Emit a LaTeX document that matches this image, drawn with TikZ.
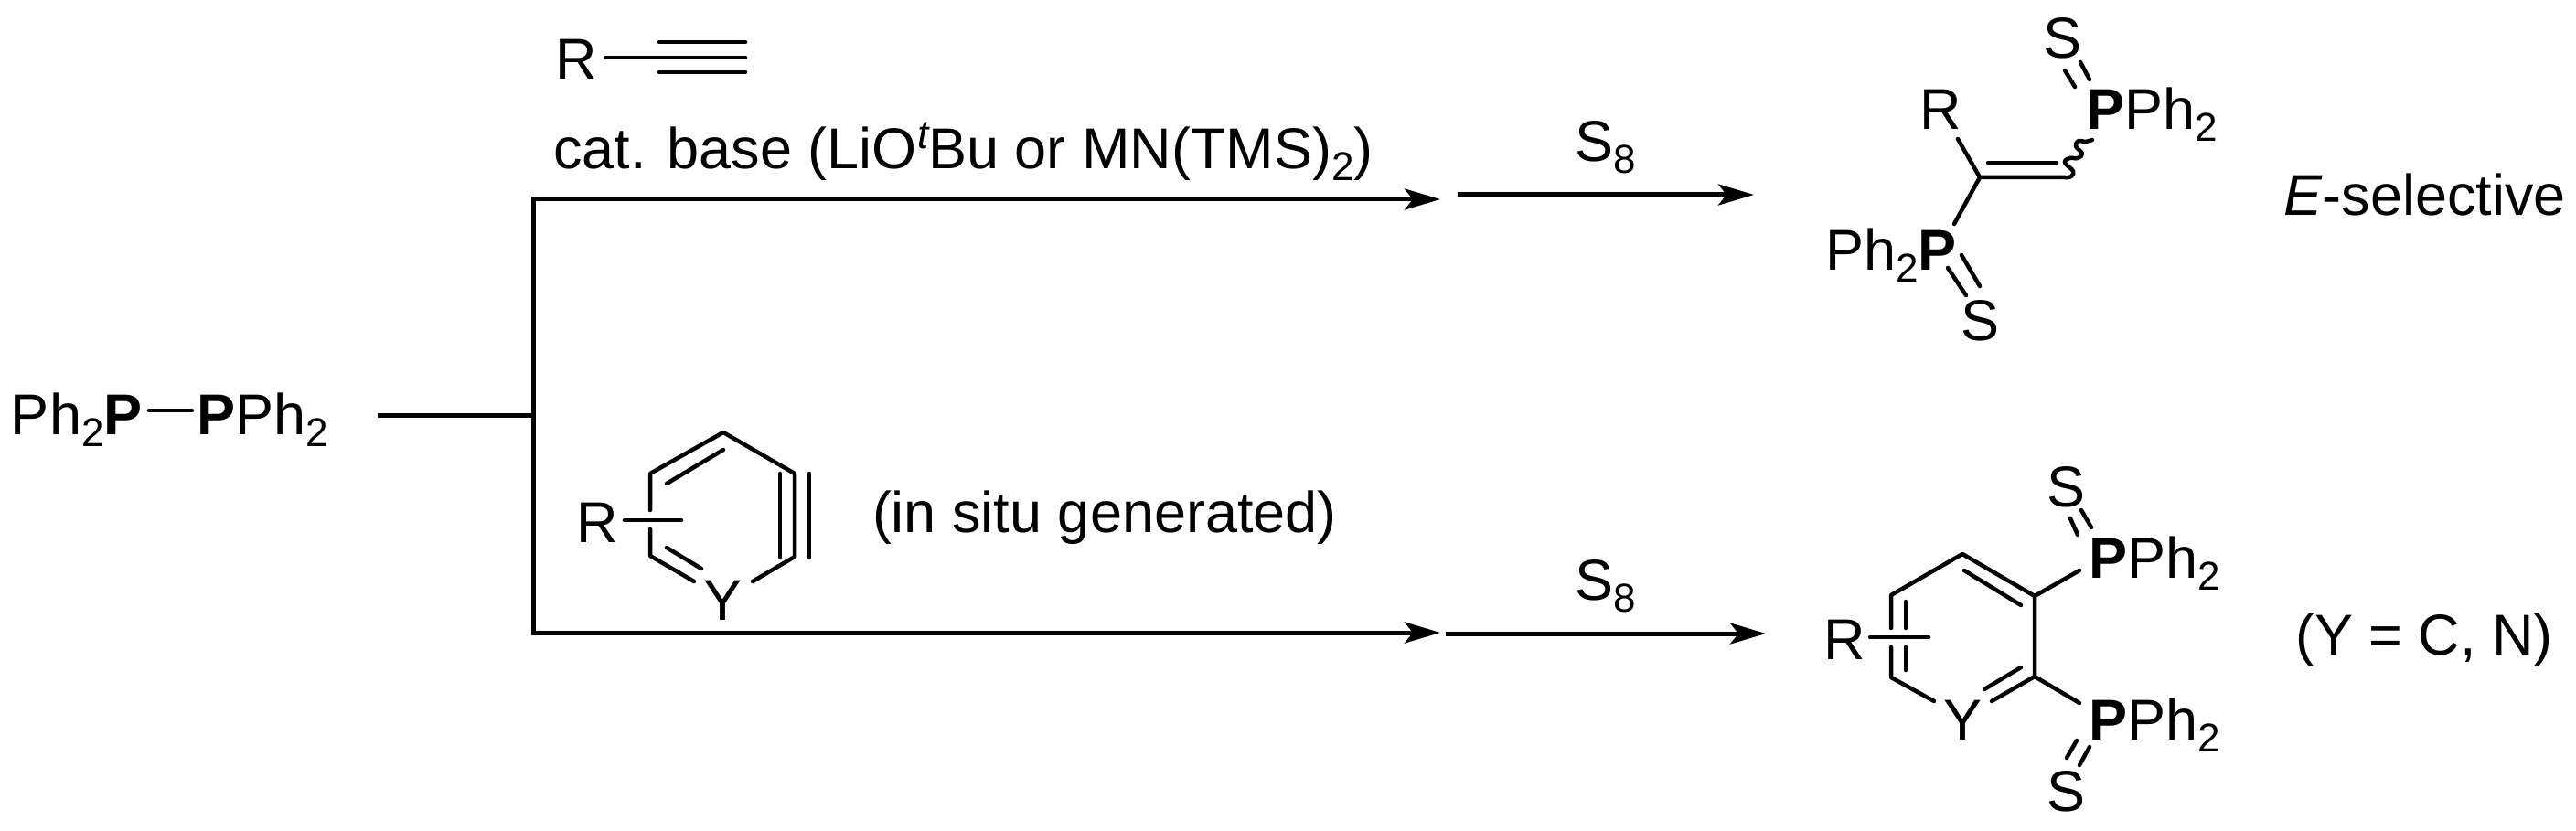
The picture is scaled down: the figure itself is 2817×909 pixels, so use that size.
\documentclass[tikz,border=0pt]{standalone}
\usepackage{fontspec}
\setmainfont{Liberation Sans}
\usetikzlibrary{arrows.meta}
\newcommand{\sbs}[1]{\raisebox{-13pt}{\fontsize{44}{50}\selectfont #1}}
\tikzset{
  lbl/.style={inner sep=0pt,outer sep=0pt,anchor=base west,font=\fontsize{63}{70}\selectfont},
  lblc/.style={lbl,anchor=base},
  bond/.style={line width=4.5pt,line cap=round,line join=round},
  flow/.style={line width=5pt,line cap=butt,line join=miter},
  rxn/.style={flow,-{Stealth[length=39pt,width=23pt,inset=9pt]}}
}
\begin{document}
\begin{tikzpicture}[x=1pt,y=-1pt]
\useasboundingbox (0,0) rectangle (2817,909);
\fill[white] (0,0) rectangle (2817,909);
% start
\node[lbl] (pl) at (12,475) {Ph\sbs{2}\textbf{P}};
\node[lbl] (pr) at (215,475) {\textbf{P}Ph\sbs{2}};
\coordinate (pa) at (163,449); \coordinate (pb) at (210,449);
\draw[bond] (pa) -- (pb);
% branching
\coordinate (j0) at (413,454); \coordinate (j1) at (583,454);
\coordinate (jt) at (583,218); \coordinate (jb) at (583,692);
\coordinate (t1) at (1575,218); \coordinate (b1) at (1575,692);
\draw[flow] (j0) -- (j1);
\draw[rxn] (j1) -- (jt) -- (t1);
\draw[rxn] (j1) -- (jb) -- (b1);
\coordinate (t2) at (1594,213); \coordinate (t3) at (1918,213);
\coordinate (b2) at (1581,693); \coordinate (b3) at (1931,693);
\draw[rxn] (t2) -- (t3);
\draw[rxn] (b2) -- (b3);
\node[lbl] (s8t) at (1722,177) {S\sbs{8}};
\node[lbl] (s8b) at (1722,656) {S\sbs{8}};
% alkyne
\node[lbl] (ralk) at (607,87) {R};
\coordinate (a0) at (662,63); \coordinate (a1) at (721,63); \coordinate (a2) at (815,63);
\draw[bond] (a0) -- (a2);
\draw[bond] (721,46) -- (815,46);
\draw[bond] (721,79) -- (815,79);
\node[lbl] (cat) at (605,185) {cat. base (LiO\raisebox{22pt}{\fontsize{44}{50}\selectfont\itshape t}Bu or MN(TMS)\sbs{2})};
% aryne
\coordinate (r1) at (791,473); \coordinate (r2) at (869,518); \coordinate (r3) at (869,609);
\coordinate (r4) at (823,636); \coordinate (r5) at (759,636); \coordinate (r6) at (711,608); \coordinate (r7) at (711,518);
\draw[bond] (r3) -- (r2) -- (r1) -- (r7) -- (711,558);
\draw[bond] (711,579) -- (r6) -- (r5);
\draw[bond] (r3) -- (r4);
\draw[bond] (791,492) -- (729,529);
\draw[bond] (729,599) -- (767,622);
\draw[bond] (853,518) -- (853,610);
\draw[bond] (885,518) -- (885,610);
\draw[bond] (683,569) -- (745,569);
\node[lbl] (rar) at (630,593) {R};
\node[lblc] (yar) at (791,678) {Y};
\node[lbl] (insitu) at (954,582) {(in situ generated)};
% top product
\node[lblc] (s1) at (2255,64) {S};
\node[lbl] (p1) at (2281,142) {\textbf{P}Ph\sbs{2}};
\node[lbl] (rt) at (2099,142) {R};
\node[lbl] (p2) at (1996,296) {Ph\sbs{2}\textbf{P}};
\node[lblc] (s2) at (2165,373) {S};
\node[lbl] (esel) at (2497,236) {\textit{E}-selective};
\coordinate (c1) at (2165,194); \coordinate (c2) at (2258,194);
\draw[bond] (2258,77) -- (2269,95);
\draw[bond] (2275,68) -- (2285,87);
\draw[bond] (2141,152) -- (c1) -- (c2);
\draw[bond] (2174,178) -- (2249,178);
\draw[bond] (c1) -- (2137,245);
\draw[bond] (2130,293) -- (2150,323);
\draw[bond] (2145,279) -- (2165,313);
\draw[bond] plot[smooth,tension=0.7] coordinates {(2258,194) (2265,193) (2267,187) (2258,178) (2263,173) (2272,173) (2277,168) (2270,160) (2273,154) (2280,155) (2288,153)};
% bottom product
\node[lblc] (s3) at (2259,554) {S};
\node[lbl] (p3) at (2284,632) {\textbf{P}Ph\sbs{2}};
\node[lbl] (p4) at (2284,809) {\textbf{P}Ph\sbs{2}};
\node[lblc] (s4) at (2259,887) {S};
\node[lblc] (yb) at (2146,809) {Y};
\node[lbl] (rb) at (1994,721) {R};
\node[lbl] (yeq) at (2510,716) {(Y = C, N)};
\coordinate (h1) at (2146,606); \coordinate (h2) at (2225,652); \coordinate (h3) at (2225,740);
\coordinate (h4) at (2178,767); \coordinate (h5) at (2115,767); \coordinate (h6) at (2068,741); \coordinate (h7) at (2068,651);
\draw[bond] (h4) -- (h3) -- (h2) -- (h1) -- (h7) -- (2068,687);
\draw[bond] (2068,708) -- (h6) -- (h5);
\draw[bond] (2148,624) -- (2210,662);
\draw[bond] (2170,754) -- (2210,730);
\draw[bond] (2084,658) -- (2084,687);
\draw[bond] (2084,708) -- (2084,733);
\draw[bond] (2045,697) -- (2109,697);
\draw[bond] (h2) -- (2274,624);
\draw[bond] (h3) -- (2274,769);
\draw[bond] (2264,567) -- (2272,585);
\draw[bond] (2276,558) -- (2287,577);
\draw[bond] (2285,817) -- (2274,837);
\draw[bond] (2271,810) -- (2260,829);
\end{tikzpicture}
\end{document}
